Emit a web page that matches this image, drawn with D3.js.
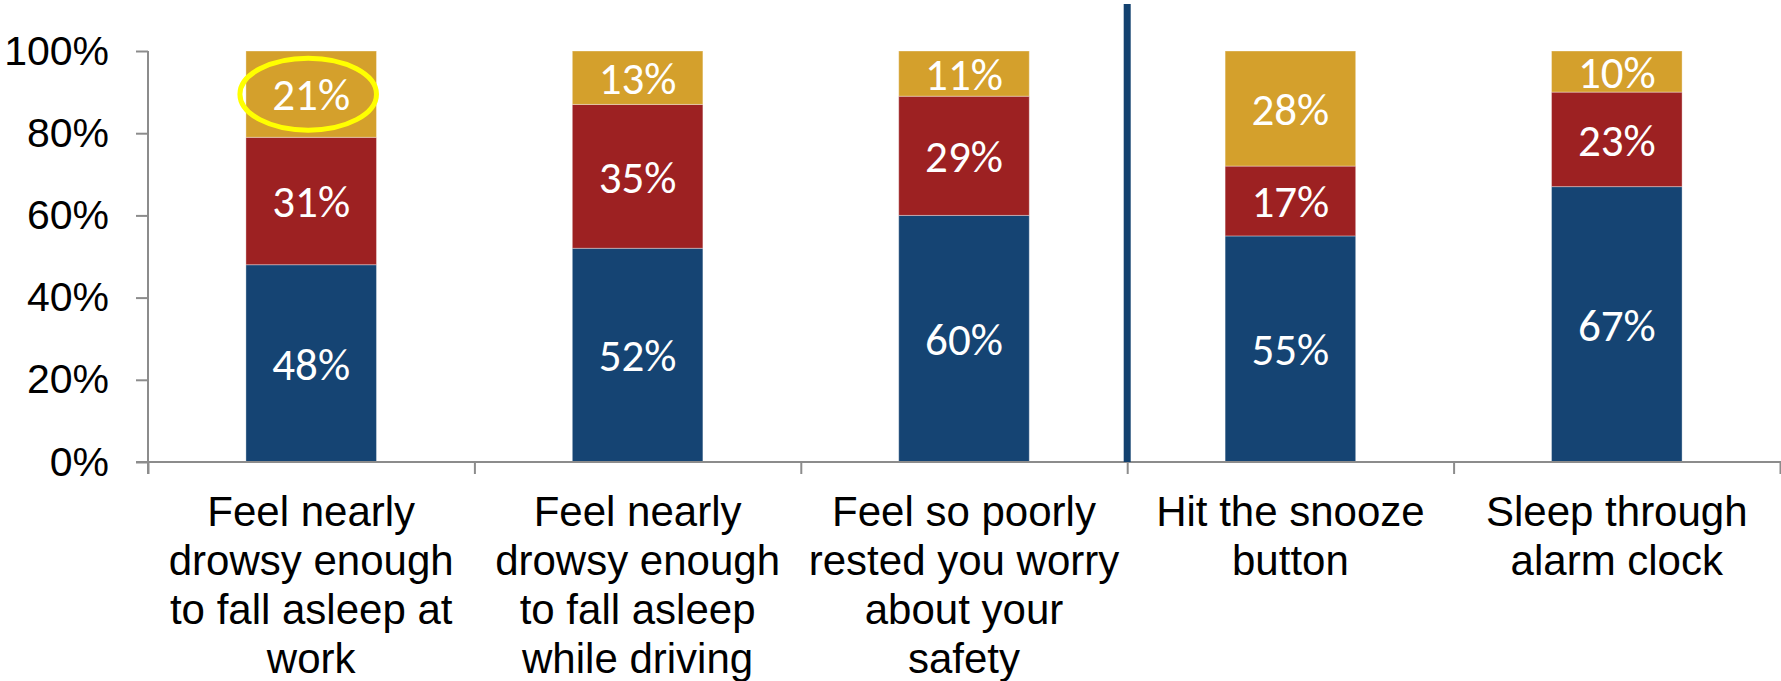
<!DOCTYPE html>
<html>
<head>
<meta charset="utf-8">
<script src="https://cdn.jsdelivr.net/npm/d3@7"></script>
<style>
  html, body { margin: 0; padding: 0; background: #fff; }
  svg { display: block; }
</style>
</head>
<body>
<svg id="chart" width="1781" height="681"></svg>
<script>
// Categories and their wrapped label lines
const categories = ["work", "driving", "safety", "snooze", "alarm"];
const categoryLines = [
  ["Feel nearly", "drowsy enough", "to fall asleep at", "work"],
  ["Feel nearly", "drowsy enough", "to fall asleep", "while driving"],
  ["Feel so poorly", "rested you worry", "about your", "safety"],
  ["Hit the snooze", "button"],
  ["Sleep through", "alarm clock"]
];

// Stacked series (percent), bottom to top
const seriesA = [48, 52, 60, 55, 67];
const seriesB = [31, 35, 29, 17, 23];
const seriesC = [21, 13, 11, 28, 10];

const seriesColors = ["#154473", "#9D2122", "#D4A02C"];

// Y axis tick values
const yTicks = [0, 20, 40, 60, 80, 100];

// Highlighted segment: category index, series index
const highlight = { cat: 0, series: 2 };
// Divider sits between these two groups of categories
const dividerAfter = 2;

(function draw() {
  const svg = d3.select("#chart");

  const plotLeft = 148, plotRight = 1780, plotTop = 51, plotBottom = 462;

  const x = d3.scaleBand()
    .domain(categories)
    .range([plotLeft, plotRight])
    .paddingInner(0.6)
    .paddingOuter(0.3);

  const step = x.step();
  const xEdge = d3.scaleLinear()
    .domain([0, categories.length])
    .range([plotLeft, plotLeft + step * categories.length]);

  const y = d3.scaleLinear().domain([0, 100]).range([plotBottom, plotTop]);

  // Build stack
  const rows = categories.map((c, i) => ({ cat: c, a: seriesA[i], b: seriesB[i], c: seriesC[i] }));
  const stack = d3.stack().keys(["a", "b", "c"])(rows);

  // Bars
  const layers = svg.append("g").selectAll("g")
    .data(stack)
    .join("g")
    .attr("fill", (d, i) => seriesColors[i]);

  layers.selectAll("rect")
    .data(d => d)
    .join("rect")
    .attr("x", d => x(d.data.cat))
    .attr("width", x.bandwidth())
    .attr("y", d => y(d[1]))
    .attr("height", d => y(d[0]) - y(d[1]))
    .attr("stroke", "rgba(255,255,255,0.35)")
    .attr("stroke-width", 1);

  // Value labels
  layers.selectAll("text")
    .data(d => d.map(v => ({ v, key: d.key })))
    .join("text")
    .attr("x", d => x(d.v.data.cat) + x.bandwidth() / 2)
    .attr("y", d => y((d.v[0] + d.v[1]) / 2))
    .attr("dy", "0.36em")
    .attr("text-anchor", "middle")
    .attr("fill", "#fff")
    .style("font-family", "Calibri, Carlito, Lato, sans-serif")
    .style("font-size", "45px")
    .text(d => (d.v[1] - d.v[0]) + "%");

  // Highlight ellipse around one label
  const seg = stack[highlight.series][highlight.cat];
  svg.append("ellipse")
    .attr("cx", x(categories[highlight.cat]) + x.bandwidth() / 2 - 3)
    .attr("cy", y((seg[0] + seg[1]) / 2))
    .attr("rx", x.bandwidth() / 2 + 3)
    .attr("ry", 36)
    .attr("fill", "none")
    .attr("stroke", "#FFFF00")
    .attr("stroke-width", 5);

  // Y axis
  const yAxis = d3.axisLeft(y)
    .tickValues(yTicks)
    .tickSize(12)
    .tickSizeOuter(0)
    .tickPadding(27)
    .tickFormat(d => d + "%");

  const yg = svg.append("g")
    .attr("transform", `translate(${plotLeft},0)`)
    .call(yAxis);
  yg.select(".domain").remove();
  yg.selectAll(".tick line").attr("stroke", "#8c8c8c").attr("stroke-width", 2);
  yg.selectAll(".tick text")
    .attr("fill", "#000")
    .style("font-family", "'Liberation Sans', Arial, sans-serif")
    .style("font-size", "41px");

  // X axis (category boundary ticks)
  const xAxis = d3.axisBottom(xEdge)
    .tickValues(d3.range(0, categories.length + 1))
    .tickSize(12)
    .tickSizeOuter(0)
    .tickFormat("");

  const xg = svg.append("g")
    .attr("transform", `translate(0,${plotBottom})`)
    .call(xAxis);
  xg.select(".domain").remove();
  xg.selectAll(".tick line").attr("stroke", "#8c8c8c").attr("stroke-width", 2);

  // Axis lines
  svg.append("line")
    .attr("x1", plotLeft).attr("x2", plotLeft)
    .attr("y1", y(100)).attr("y2", plotBottom + 12)
    .attr("stroke", "#8c8c8c").attr("stroke-width", 2);
  svg.append("line")
    .attr("x1", plotLeft - 12).attr("x2", 1781)
    .attr("y1", plotBottom).attr("y2", plotBottom)
    .attr("stroke", "#8c8c8c").attr("stroke-width", 2);

  // Divider between the two groups
  svg.append("line")
    .attr("x1", xEdge(dividerAfter + 1)).attr("x2", xEdge(dividerAfter + 1))
    .attr("y1", 4).attr("y2", plotBottom)
    .attr("stroke", "#12416F").attr("stroke-width", 7);

  // Category labels
  const labels = svg.append("g")
    .selectAll("text")
    .data(categories)
    .join("text")
    .attr("text-anchor", "middle")
    .attr("fill", "#000")
    .style("font-family", "'Liberation Sans', Arial, sans-serif")
    .style("font-size", "42px");

  labels.selectAll("tspan")
    .data((d, i) => categoryLines[i].map(line => ({ line, cat: d })))
    .join("tspan")
    .attr("x", d => x(d.cat) + x.bandwidth() / 2)
    .attr("y", (d, j) => 526 + j * 49)
    .text(d => d.line);
})();
</script>
</body>
</html>
